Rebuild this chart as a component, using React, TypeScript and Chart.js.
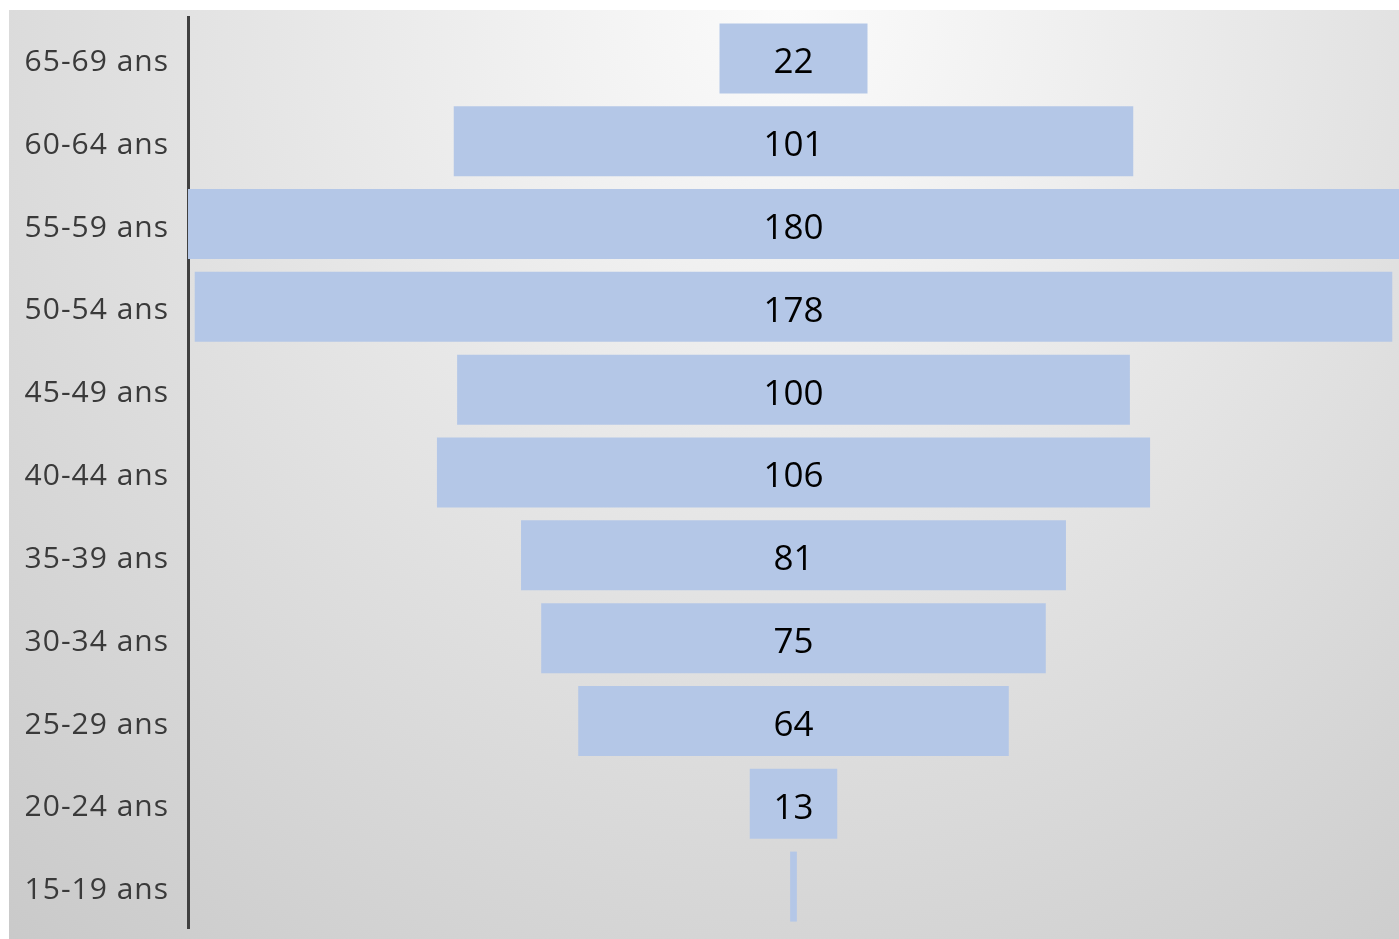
import React, { useEffect, useRef } from "react";
import { Chart, registerables } from "chart.js";

Chart.register(...registerables);

const categories = [
  "65-69 ans",
  "60-64 ans",
  "55-59 ans",
  "50-54 ans",
  "45-49 ans",
  "40-44 ans",
  "35-39 ans",
  "30-34 ans",
  "25-29 ans",
  "20-24 ans",
  "15-19 ans",
];
const values = [22, 101, 180, 178, 100, 106, 81, 75, 64, 13, 1];
const axisMin = -90;
const axisMax = 90;

const backgroundPlugin = {
  id: "bgGradient",
  beforeDraw(chart: any) {
    const { ctx, width, height } = chart;
    ctx.save();
    const cx = width * 0.56;
    const g = ctx.createRadialGradient(cx, 0, 0, cx, 0, 1250);
    g.addColorStop(0, "#fbfbfb");
    g.addColorStop(1, "#c8c8c8");
    ctx.fillStyle = g;
    ctx.fillRect(0, 0, width, height);
    ctx.restore();
    ctx.letterSpacing = "1px";
  },
};

const valueLabelPlugin = {
  id: "valueLabels",
  afterDatasetsDraw(chart: any) {
    const { ctx } = chart;
    const meta = chart.getDatasetMeta(0);
    ctx.save();
    ctx.letterSpacing = "0px";
    ctx.font = "35px 'Open Sans'";
    ctx.fillStyle = "#000000";
    ctx.textAlign = "center";
    ctx.textBaseline = "middle";
    meta.data.forEach((bar: any, i: number) => {
      const text = String(values[i]);
      const left = Math.min(bar.x, bar.base);
      const right = Math.max(bar.x, bar.base);
      const w = right - left;
      if (ctx.measureText(text).width + 8 > w) return;
      ctx.fillText(text, (left + right) / 2, bar.y + 5);
    });
    ctx.restore();
  },
};

export default function App() {
  const canvasRef = useRef<HTMLCanvasElement | null>(null);

  useEffect(() => {
    if (!canvasRef.current) return;
    const chart = new Chart(canvasRef.current, {
      type: "bar",
      data: {
        labels: categories,
        datasets: [
          {
            data: values.map((v) => [-v / 2, v / 2]) as any,
            backgroundColor: "#B4C7E7",
            borderWidth: 0,
            barPercentage: 0.845,
            categoryPercentage: 1,
          },
        ],
      },
      options: {
        indexAxis: "y",
        animation: false,
        responsive: true,
        maintainAspectRatio: false,
        layout: { padding: { top: 7, bottom: 11, left: 0, right: 0 } },
        plugins: {
          legend: { display: false },
          tooltip: { enabled: false },
          title: { display: false },
        },
        scales: {
          x: {
            type: "linear",
            min: axisMin,
            max: axisMax,
            display: false,
          },
          y: {
            grid: { display: false, drawTicks: false },
            border: { display: true, color: "#404040", width: 3 },
            ticks: {
              color: "#3a3a3a",
              font: { family: "'Open Sans'", size: 30 },
              padding: 19,
              labelOffset: 4,
            },
            afterFit(scale: any) {
              scale.width = 179;
              scale.paddingTop = 0;
              scale.paddingBottom = 0;
            },
          },
        },
      },
      plugins: [backgroundPlugin, valueLabelPlugin],
    });
    return () => chart.destroy();
  }, []);

  return (
    <div
      style={{
        position: "absolute",
        left: 9,
        top: 10,
        width: 1390,
        height: 929,
      }}
    >
      <canvas ref={canvasRef} />
    </div>
  );
}
